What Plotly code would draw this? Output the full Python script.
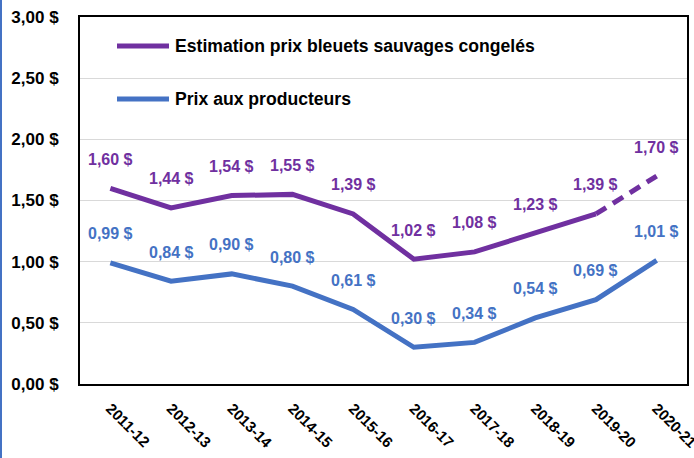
import plotly.graph_objects as go

categories = ["2011-12", "2012-13", "2013-14", "2014-15", "2015-16",
              "2016-17", "2017-18", "2018-19", "2019-20", "2020-21"]
estimation = [1.60, 1.44, 1.54, 1.55, 1.39, 1.02, 1.08, 1.23, 1.39, 1.70]
producteurs = [0.99, 0.84, 0.90, 0.80, 0.61, 0.30, 0.34, 0.54, 0.69, 1.01]
y_ticks = [0, 0.5, 1.0, 1.5, 2.0, 2.5, 3.0]
series_names = ["Estimation prix bleuets sauvages congelés", "Prix aux producteurs"]

LABEL_SHIFT = 29  # px above each point

PURPLE = "#7030A0"
BLUE = "#4472C4"
FONT = "Liberation Sans"

def fmt(v):
    return f"{v:.2f}".replace(".", ",") + " $"

fig = go.Figure()
fig.add_trace(go.Scatter(
    x=categories[:9], y=estimation[:9], mode="lines", showlegend=False,
    name=series_names[0], line=dict(color=PURPLE, width=5)))
fig.add_trace(go.Scatter(
    x=categories[8:], y=estimation[8:], mode="lines", showlegend=False,
    name=series_names[0], line=dict(color=PURPLE, width=5, dash="12px,8px")))
fig.add_trace(go.Scatter(
    x=categories, y=producteurs, mode="lines", showlegend=False,
    name=series_names[1], line=dict(color=BLUE, width=5)))

L, R, T, B = 80, 7, 17, 74
W, H = 694, 458
pw = W - L - R
ph = H - T - B

def px_x(p):
    return (p - L) / pw

def px_y(p):
    return (H - B - p) / ph

annotations = []
for c, v in zip(categories, estimation):
    annotations.append(dict(x=c, y=v, text=fmt(v), showarrow=False, yshift=LABEL_SHIFT,
                            font=dict(family=FONT, size=16, color=PURPLE, weight="bold")))
for c, v in zip(categories, producteurs):
    annotations.append(dict(x=c, y=v, text=fmt(v), showarrow=False, yshift=LABEL_SHIFT,
                            font=dict(family=FONT, size=16, color=BLUE, weight="bold")))

shapes = [dict(type="line", xref="paper", yref="paper",
               x0=px_x(1), x1=px_x(1), y0=px_y(H), y1=px_y(0),
               line=dict(color=BLUE, width=2))]

# manual legend
for name, color, ly in zip(series_names, [PURPLE, BLUE], [46, 99]):
    shapes.append(dict(type="line", xref="paper", yref="paper",
                       x0=px_x(117), x1=px_x(169), y0=px_y(ly), y1=px_y(ly),
                       line=dict(color=color, width=5)))
    annotations.append(dict(xref="paper", yref="paper", x=px_x(173), y=px_y(ly),
                            xanchor="left", yanchor="middle", showarrow=False, text=name,
                            font=dict(family=FONT, size=17.6, color="black", weight="bold")))

fig.update_layout(
    width=W, height=H,
    margin=dict(l=L, r=R, t=T, b=B),
    paper_bgcolor="white", plot_bgcolor="white",
    font=dict(family=FONT, size=16, color="black"),
    annotations=annotations,
    shapes=shapes,
    showlegend=False,
)
fig.update_xaxes(
    type="category", range=[-0.5, 9.5], tickangle=45, automargin=False,
    showline=True, linecolor="black", linewidth=2, mirror=True,
    showgrid=False, ticks="outside", ticklen=8, tickcolor="rgba(0,0,0,0)",
    tickfont=dict(family=FONT, size=15, color="black", weight="bold"),
)
fig.update_yaxes(
    range=[0, 3.0], tickvals=y_ticks, ticktext=[fmt(v) for v in y_ticks],
    automargin=False,
    showline=True, linecolor="black", linewidth=2, mirror=True,
    showgrid=True, gridcolor="#D9D9D9", gridwidth=1, zeroline=False,
    ticks="outside", ticklen=16, tickcolor="rgba(0,0,0,0)",
    tickfont=dict(family=FONT, size=17, color="black", weight="bold"),
)

fig.write_html("out.html", config={"displayModeBar": False},
               post_script="document.body.style.margin='0';document.body.style.overflow='hidden';")
